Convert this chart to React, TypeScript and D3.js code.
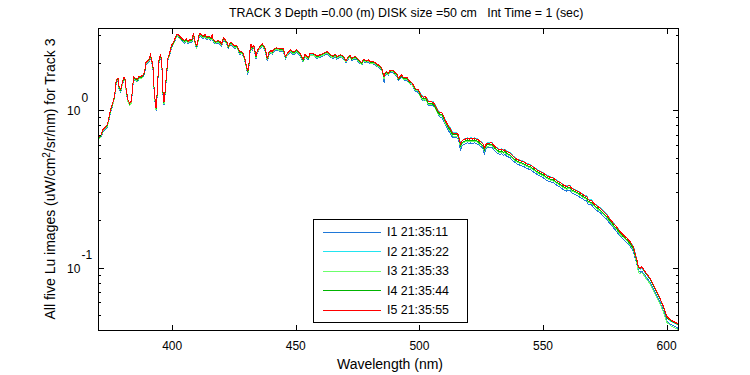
import React from "react";
import * as d3 from "d3";

const wavelength = [
  370.4, 371.2, 372.0, 372.7, 373.8, 374.4, 375.1, 375.8, 376.5, 377.0,
  377.4, 378.1, 378.5, 379.2, 379.8, 380.5, 381.0, 381.4, 382.1, 382.8,
  383.5, 383.9, 384.4, 385.1, 385.9, 386.6, 387.5, 388.2, 388.9, 389.3,
  389.9, 390.6, 391.2, 391.8, 392.2, 392.6, 393.2, 393.5, 393.9, 394.3,
  394.6, 395.2, 395.6, 396.0, 396.4, 396.7, 397.2, 397.8, 398.3, 399.0,
  399.6, 400.3, 401.0, 401.7, 402.4, 403.0, 403.7, 404.4, 405.1, 405.7,
  406.4, 407.1, 408.0, 408.6, 409.1, 409.9, 410.9, 411.3, 412.6, 413.3,
  414.0, 414.9, 415.7, 416.2, 416.6, 417.6, 418.7, 419.4, 420.0, 420.7,
  421.4, 422.1, 422.7, 423.4, 424.1, 424.7, 425.4, 426.1, 426.8, 427.4,
  428.1, 428.8, 429.5, 430.2, 430.6, 431.1, 431.5, 431.9, 432.4, 433.0,
  433.5, 433.9, 434.4, 435.1, 435.8, 436.5, 437.2, 437.8, 438.2, 438.6,
  439.2, 440.0, 440.5, 441.2, 442.3, 443.6, 445.0, 445.4, 445.9, 446.6,
  447.3, 448.0, 448.6, 449.4, 450.4, 451.0, 451.7, 452.4, 453.0, 453.7,
  454.4, 455.1, 455.8, 457.1, 458.5, 459.8, 461.1, 462.5, 463.2, 464.1,
  465.2, 465.9, 466.6, 467.9, 469.2, 470.3, 471.2, 471.9, 472.6, 473.7,
  474.6, 475.7, 476.7, 477.3, 478.4, 479.3, 480.0, 481.1, 482.1, 482.7,
  483.4, 484.1, 484.8, 485.4, 485.7, 486.1, 486.8, 487.4, 488.1, 488.8,
  489.5, 490.1, 490.8, 491.5, 492.2, 492.9, 493.5, 494.2, 494.9, 495.5,
  496.2, 496.9, 497.5, 498.2, 498.9, 499.6, 500.3, 500.9, 501.6, 502.3,
  503.0, 503.6, 505.0, 505.6, 506.3, 507.0, 507.7, 508.3, 509.0, 509.7,
  510.4, 511.1, 511.7, 512.4, 513.1, 513.7, 515.1, 515.8, 516.2, 516.7,
  517.1, 517.8, 518.5, 519.4, 520.1, 520.8, 521.6, 522.2, 523.2, 523.8,
  524.5, 525.2, 525.9, 526.3, 526.8, 527.5, 528.3, 529.3, 529.9, 530.6,
  531.9, 532.6, 533.3, 534.0, 534.6, 535.3, 536.7, 538.0, 539.4, 540.7,
  542.0, 543.4, 544.8, 546.1, 547.5, 548.8, 550.1, 551.5, 552.8, 554.2,
  555.6, 556.9, 558.2, 559.6, 560.2, 560.9, 561.6, 562.9, 564.3, 565.7,
  567.0, 567.7, 568.3, 569.7, 570.4, 571.7, 573.1, 574.4, 575.8, 577.1,
  578.5, 579.8, 581.2, 582.5, 583.9, 585.2, 586.6, 587.2, 587.9, 588.6,
  589.3, 589.9, 590.6, 591.3, 592.0, 593.3, 594.6, 596.0, 597.3, 598.7,
  599.4, 600.1, 601.5, 602.8, 604.1, 605.0,
];

const luI5 = [
  0.677, 0.697, 0.753, 0.772, 0.810, 0.894, 1.01, 1.09, 1.20, 1.35,
  1.57, 1.60, 1.42, 1.35, 1.49, 1.62, 1.57, 1.35, 1.17, 1.11,
  1.14, 1.35, 1.64, 1.60, 1.57, 1.64, 1.64, 1.68, 1.77, 2.00,
  2.05, 2.10, 2.26, 2.05, 1.95, 1.45, 1.11, 1.03, 1.26, 1.68,
  2.05, 2.26, 2.15, 1.77, 1.17, 1.13, 1.35, 1.77, 2.15, 2.31,
  2.55, 2.68, 2.81, 3.02, 3.05, 2.95, 2.88, 2.81, 2.77, 2.85,
  2.74, 2.81, 2.81, 3.10, 2.81, 2.55, 3.02, 3.07, 2.95, 3.02,
  2.91, 2.95, 2.88, 3.02, 2.81, 2.74, 2.77, 2.72, 2.64, 2.88,
  2.81, 2.72, 2.55, 2.68, 2.68, 2.61, 2.55, 2.59, 2.46, 2.35,
  2.37, 2.28, 2.10, 1.86, 1.77, 2.00, 2.43, 2.64, 2.49, 2.59,
  2.37, 2.20, 2.39, 2.49, 2.59, 2.64, 2.55, 2.43, 2.20, 2.15,
  2.35, 2.39, 2.35, 2.46, 2.49, 2.46, 2.46, 2.31, 2.20, 2.31,
  2.37, 2.43, 2.35, 2.35, 2.43, 2.37, 2.31, 2.20, 2.10, 2.26,
  2.20, 2.17, 2.30, 2.30, 2.21, 2.25, 2.30, 2.36, 2.32, 2.25,
  2.21, 2.28, 2.19, 2.25, 2.21, 2.07, 2.19, 2.25, 2.14, 2.19,
  2.17, 2.07, 2.01, 2.11, 2.07, 2.09, 2.04, 2.04, 2.01, 1.97,
  1.94, 1.91, 1.85, 1.70, 1.64, 1.72, 1.76, 1.72, 1.79, 1.80,
  1.79, 1.73, 1.72, 1.60, 1.64, 1.68, 1.62, 1.60, 1.62, 1.56,
  1.52, 1.50, 1.45, 1.38, 1.36, 1.35, 1.28, 1.23, 1.21, 1.22,
  1.19, 1.13, 1.13, 1.12, 1.08, 1.03, 0.980, 0.966, 0.966, 0.920,
  0.868, 0.827, 0.795, 0.769, 0.731, 0.714, 0.714, 0.697, 0.648, 0.611,
  0.632, 0.648, 0.654, 0.664, 0.654, 0.664, 0.654, 0.664, 0.654, 0.648,
  0.632, 0.623, 0.602, 0.574, 0.602, 0.617, 0.617, 0.623, 0.602, 0.587,
  0.565, 0.560, 0.565, 0.554, 0.560, 0.546, 0.533, 0.507, 0.488, 0.478,
  0.471, 0.456, 0.449, 0.434, 0.418, 0.407, 0.398, 0.383, 0.375, 0.370,
  0.356, 0.347, 0.335, 0.327, 0.330, 0.330, 0.319, 0.312, 0.304, 0.294,
  0.285, 0.283, 0.269, 0.267, 0.257, 0.247, 0.238, 0.227, 0.216, 0.203,
  0.191, 0.181, 0.169, 0.161, 0.154, 0.146, 0.135, 0.124, 0.113, 0.101,
  0.0991, 0.101, 0.0977, 0.0943, 0.0912, 0.0857, 0.0777, 0.0704, 0.0639, 0.0565,
  0.0525, 0.0488, 0.0465, 0.0454, 0.0443, 0.0433,
];

const luI4 = [
  0.670, 0.690, 0.745, 0.764, 0.802, 0.885, 1.00, 1.08, 1.19, 1.34,
  1.55, 1.58, 1.41, 1.34, 1.48, 1.60, 1.55, 1.34, 1.16, 1.10,
  1.13, 1.34, 1.62, 1.58, 1.55, 1.62, 1.62, 1.66, 1.75, 1.98,
  2.03, 2.08, 2.24, 2.03, 1.93, 1.44, 1.10, 1.02, 1.25, 1.66,
  2.03, 2.24, 2.13, 1.75, 1.16, 1.12, 1.34, 1.75, 2.13, 2.29,
  2.52, 2.65, 2.78, 2.99, 3.02, 2.92, 2.85, 2.78, 2.74, 2.82,
  2.71, 2.78, 2.78, 3.07, 2.78, 2.52, 2.99, 3.04, 2.92, 2.99,
  2.88, 2.92, 2.85, 2.99, 2.78, 2.71, 2.74, 2.69, 2.61, 2.85,
  2.78, 2.69, 2.52, 2.65, 2.65, 2.58, 2.52, 2.56, 2.44, 2.33,
  2.35, 2.26, 2.08, 1.84, 1.75, 1.98, 2.41, 2.61, 2.47, 2.56,
  2.35, 2.18, 2.37, 2.47, 2.56, 2.61, 2.52, 2.41, 2.18, 2.13,
  2.33, 2.37, 2.33, 2.44, 2.47, 2.44, 2.44, 2.29, 2.18, 2.29,
  2.35, 2.41, 2.33, 2.33, 2.41, 2.35, 2.29, 2.18, 2.08, 2.24,
  2.18, 2.15, 2.28, 2.28, 2.19, 2.23, 2.28, 2.34, 2.30, 2.23,
  2.19, 2.26, 2.17, 2.23, 2.19, 2.05, 2.17, 2.23, 2.12, 2.17,
  2.15, 2.05, 1.99, 2.09, 2.05, 2.07, 2.02, 2.02, 1.99, 1.95,
  1.92, 1.89, 1.83, 1.68, 1.62, 1.70, 1.74, 1.70, 1.77, 1.78,
  1.77, 1.71, 1.70, 1.58, 1.62, 1.66, 1.60, 1.58, 1.60, 1.54,
  1.50, 1.49, 1.44, 1.37, 1.35, 1.34, 1.25, 1.20, 1.18, 1.19,
  1.16, 1.10, 1.10, 1.09, 1.05, 1.00, 0.956, 0.942, 0.942, 0.897,
  0.846, 0.806, 0.775, 0.750, 0.713, 0.696, 0.696, 0.680, 0.632, 0.596,
  0.616, 0.632, 0.638, 0.647, 0.638, 0.647, 0.638, 0.647, 0.638, 0.632,
  0.616, 0.607, 0.587, 0.560, 0.587, 0.602, 0.602, 0.607, 0.587, 0.572,
  0.551, 0.546, 0.551, 0.540, 0.546, 0.532, 0.520, 0.494, 0.476, 0.466,
  0.459, 0.445, 0.438, 0.423, 0.408, 0.397, 0.388, 0.373, 0.366, 0.361,
  0.347, 0.338, 0.327, 0.319, 0.322, 0.322, 0.311, 0.304, 0.296, 0.287,
  0.278, 0.276, 0.262, 0.260, 0.251, 0.241, 0.232, 0.221, 0.211, 0.198,
  0.186, 0.176, 0.165, 0.157, 0.150, 0.142, 0.132, 0.121, 0.110, 0.100,
  0.0981, 0.100, 0.0967, 0.0934, 0.0903, 0.0848, 0.0769, 0.0697, 0.0633, 0.0559,
  0.0520, 0.0483, 0.0460, 0.0449, 0.0439, 0.0429,
];

const luI3 = [
  0.660, 0.680, 0.734, 0.753, 0.790, 0.872, 0.985, 1.06, 1.17, 1.32,
  1.53, 1.56, 1.38, 1.32, 1.45, 1.58, 1.53, 1.32, 1.14, 1.08,
  1.11, 1.32, 1.60, 1.56, 1.53, 1.60, 1.60, 1.64, 1.73, 1.95,
  2.00, 2.05, 2.20, 2.00, 1.90, 1.41, 1.08, 1.00, 1.23, 1.64,
  2.00, 2.20, 2.10, 1.73, 1.14, 1.10, 1.32, 1.73, 2.10, 2.25,
  2.49, 2.61, 2.74, 2.94, 2.97, 2.88, 2.81, 2.74, 2.70, 2.78,
  2.67, 2.74, 2.74, 3.02, 2.74, 2.49, 2.94, 2.99, 2.88, 2.94,
  2.84, 2.88, 2.81, 2.94, 2.74, 2.67, 2.70, 2.65, 2.57, 2.81,
  2.74, 2.65, 2.49, 2.61, 2.61, 2.54, 2.49, 2.53, 2.40, 2.29,
  2.31, 2.22, 2.05, 1.81, 1.73, 1.95, 2.37, 2.57, 2.43, 2.53,
  2.31, 2.15, 2.33, 2.43, 2.53, 2.57, 2.49, 2.37, 2.15, 2.10,
  2.29, 2.33, 2.29, 2.40, 2.43, 2.40, 2.40, 2.25, 2.15, 2.25,
  2.31, 2.37, 2.29, 2.29, 2.37, 2.31, 2.25, 2.15, 2.05, 2.20,
  2.15, 2.12, 2.24, 2.24, 2.15, 2.19, 2.24, 2.30, 2.26, 2.19,
  2.15, 2.22, 2.14, 2.19, 2.15, 2.02, 2.14, 2.19, 2.09, 2.14,
  2.12, 2.02, 1.96, 2.06, 2.02, 2.04, 1.99, 1.99, 1.96, 1.92,
  1.89, 1.86, 1.80, 1.66, 1.58, 1.68, 1.72, 1.68, 1.75, 1.76,
  1.75, 1.69, 1.68, 1.56, 1.60, 1.64, 1.58, 1.56, 1.58, 1.52,
  1.48, 1.46, 1.41, 1.35, 1.33, 1.32, 1.23, 1.18, 1.16, 1.17,
  1.14, 1.08, 1.08, 1.08, 1.04, 0.989, 0.941, 0.927, 0.927, 0.883,
  0.833, 0.794, 0.763, 0.738, 0.702, 0.685, 0.685, 0.669, 0.622, 0.587,
  0.607, 0.622, 0.628, 0.637, 0.628, 0.637, 0.628, 0.637, 0.628, 0.622,
  0.607, 0.598, 0.578, 0.551, 0.578, 0.592, 0.592, 0.598, 0.578, 0.564,
  0.542, 0.538, 0.542, 0.532, 0.538, 0.524, 0.512, 0.487, 0.468, 0.459,
  0.452, 0.438, 0.431, 0.417, 0.401, 0.391, 0.382, 0.368, 0.360, 0.355,
  0.342, 0.333, 0.322, 0.314, 0.317, 0.317, 0.306, 0.300, 0.292, 0.282,
  0.274, 0.272, 0.258, 0.256, 0.247, 0.237, 0.228, 0.218, 0.207, 0.195,
  0.183, 0.174, 0.162, 0.155, 0.148, 0.140, 0.130, 0.119, 0.108, 0.0929,
  0.0912, 0.0929, 0.0899, 0.0868, 0.0839, 0.0788, 0.0715, 0.0648, 0.0588, 0.0520,
  0.0483, 0.0449, 0.0428, 0.0418, 0.0408, 0.0398,
];

const luI2 = [
  0.663, 0.683, 0.738, 0.757, 0.794, 0.876, 0.990, 1.07, 1.18, 1.32,
  1.54, 1.57, 1.39, 1.32, 1.46, 1.59, 1.54, 1.32, 1.15, 1.09,
  1.12, 1.32, 1.61, 1.57, 1.54, 1.61, 1.61, 1.65, 1.73, 1.96,
  2.01, 2.06, 2.21, 2.01, 1.91, 1.42, 1.09, 1.01, 1.23, 1.65,
  2.01, 2.21, 2.11, 1.73, 1.15, 1.11, 1.32, 1.73, 2.11, 2.26,
  2.50, 2.63, 2.75, 2.96, 2.99, 2.89, 2.82, 2.75, 2.71, 2.79,
  2.69, 2.75, 2.75, 3.04, 2.75, 2.50, 2.96, 3.01, 2.89, 2.96,
  2.85, 2.89, 2.82, 2.96, 2.75, 2.69, 2.71, 2.67, 2.59, 2.82,
  2.75, 2.67, 2.50, 2.63, 2.63, 2.56, 2.50, 2.54, 2.41, 2.30,
  2.32, 2.23, 2.06, 1.82, 1.73, 1.96, 2.38, 2.59, 2.44, 2.54,
  2.32, 2.16, 2.34, 2.44, 2.54, 2.59, 2.50, 2.38, 2.16, 2.11,
  2.30, 2.34, 2.30, 2.41, 2.44, 2.41, 2.41, 2.26, 2.16, 2.26,
  2.32, 2.38, 2.30, 2.30, 2.38, 2.32, 2.26, 2.16, 2.06, 2.21,
  2.16, 2.13, 2.25, 2.25, 2.17, 2.21, 2.25, 2.31, 2.27, 2.21,
  2.17, 2.23, 2.15, 2.21, 2.17, 2.03, 2.15, 2.21, 2.10, 2.15,
  2.13, 2.03, 1.97, 2.07, 2.03, 2.05, 2.00, 2.00, 1.97, 1.93,
  1.90, 1.87, 1.81, 1.67, 1.57, 1.69, 1.72, 1.69, 1.75, 1.76,
  1.75, 1.70, 1.69, 1.57, 1.61, 1.65, 1.59, 1.57, 1.59, 1.53,
  1.49, 1.47, 1.42, 1.35, 1.33, 1.32, 1.29, 1.24, 1.22, 1.23,
  1.20, 1.14, 1.14, 1.13, 1.09, 1.04, 0.987, 0.973, 0.973, 0.926,
  0.874, 0.833, 0.801, 0.774, 0.736, 0.719, 0.719, 0.702, 0.653, 0.615,
  0.636, 0.653, 0.659, 0.669, 0.659, 0.669, 0.659, 0.669, 0.659, 0.653,
  0.636, 0.627, 0.606, 0.578, 0.606, 0.621, 0.621, 0.627, 0.606, 0.591,
  0.569, 0.564, 0.569, 0.558, 0.564, 0.550, 0.537, 0.511, 0.491, 0.481,
  0.474, 0.459, 0.452, 0.437, 0.421, 0.410, 0.401, 0.386, 0.378, 0.373,
  0.358, 0.349, 0.337, 0.329, 0.332, 0.332, 0.321, 0.314, 0.306, 0.296,
  0.287, 0.285, 0.271, 0.269, 0.259, 0.249, 0.240, 0.229, 0.218, 0.204,
  0.192, 0.182, 0.170, 0.162, 0.155, 0.147, 0.136, 0.125, 0.114, 0.0995,
  0.0976, 0.0995, 0.0962, 0.0929, 0.0898, 0.0844, 0.0765, 0.0693, 0.0629, 0.0557,
  0.0517, 0.0481, 0.0458, 0.0447, 0.0436, 0.0427,
];

const luI1 = [
  0.653, 0.673, 0.727, 0.745, 0.782, 0.863, 0.975, 1.05, 1.16, 1.30,
  1.52, 1.54, 1.37, 1.30, 1.44, 1.56, 1.52, 1.30, 1.13, 1.07,
  1.10, 1.30, 1.58, 1.54, 1.52, 1.58, 1.58, 1.62, 1.71, 1.93,
  1.98, 2.03, 2.18, 1.98, 1.88, 1.40, 1.06, 0.990, 1.22, 1.62,
  1.98, 2.18, 2.07, 1.71, 1.12, 1.08, 1.30, 1.71, 2.07, 2.23,
  2.46, 2.59, 2.71, 2.91, 2.94, 2.85, 2.78, 2.71, 2.67, 2.75,
  2.64, 2.71, 2.71, 2.99, 2.71, 2.46, 2.91, 2.96, 2.85, 2.91,
  2.81, 2.85, 2.78, 2.91, 2.71, 2.64, 2.67, 2.62, 2.55, 2.78,
  2.71, 2.62, 2.46, 2.59, 2.59, 2.52, 2.46, 2.50, 2.37, 2.27,
  2.29, 2.20, 2.03, 1.79, 1.68, 1.93, 2.34, 2.55, 2.40, 2.50,
  2.29, 2.12, 2.31, 2.40, 2.50, 2.55, 2.46, 2.34, 2.12, 2.07,
  2.27, 2.31, 2.27, 2.37, 2.40, 2.37, 2.37, 2.23, 2.12, 2.23,
  2.29, 2.34, 2.27, 2.27, 2.34, 2.29, 2.23, 2.12, 2.03, 2.18,
  2.12, 2.09, 2.22, 2.22, 2.13, 2.17, 2.22, 2.28, 2.24, 2.17,
  2.13, 2.20, 2.11, 2.17, 2.13, 2.00, 2.11, 2.17, 2.07, 2.11,
  2.09, 2.00, 1.94, 2.04, 2.00, 2.02, 1.97, 1.97, 1.94, 1.90,
  1.87, 1.84, 1.79, 1.64, 1.50, 1.66, 1.70, 1.66, 1.73, 1.74,
  1.73, 1.67, 1.66, 1.54, 1.58, 1.62, 1.56, 1.54, 1.56, 1.51,
  1.47, 1.45, 1.40, 1.33, 1.31, 1.30, 1.22, 1.17, 1.15, 1.16,
  1.13, 1.07, 1.07, 1.06, 1.03, 0.979, 0.931, 0.903, 0.903, 0.860,
  0.812, 0.773, 0.743, 0.719, 0.683, 0.668, 0.668, 0.652, 0.606, 0.550,
  0.591, 0.606, 0.611, 0.621, 0.611, 0.621, 0.611, 0.621, 0.611, 0.606,
  0.591, 0.583, 0.563, 0.520, 0.563, 0.577, 0.577, 0.583, 0.563, 0.549,
  0.528, 0.524, 0.528, 0.518, 0.524, 0.511, 0.498, 0.474, 0.456, 0.447,
  0.440, 0.426, 0.420, 0.406, 0.391, 0.381, 0.372, 0.358, 0.351, 0.346,
  0.333, 0.324, 0.313, 0.306, 0.309, 0.309, 0.298, 0.292, 0.284, 0.275,
  0.266, 0.265, 0.252, 0.250, 0.240, 0.231, 0.223, 0.212, 0.202, 0.190,
  0.179, 0.169, 0.158, 0.151, 0.144, 0.137, 0.126, 0.116, 0.106, 0.0949,
  0.0932, 0.0949, 0.0918, 0.0886, 0.0857, 0.0806, 0.0730, 0.0662, 0.0601, 0.0531,
  0.0494, 0.0459, 0.0437, 0.0427, 0.0416, 0.0407,
];

const seriesLabels = ["I1 21:35:11", "I2 21:35:22", "I3 21:35:33", "I4 21:35:44", "I5 21:35:55"];
const seriesColors = ["#1f78d8", "#22e4f0", "#6cff6c", "#00b400", "#ff0000"];
const xTicks = [400, 450, 500, 550, 600];
const yMajorTicks = [0.1, 1];
const yMajorExp = ["-1", "0"];
const yMinorTicks = [0.04, 0.05, 0.06, 0.07, 0.08, 0.09, 0.2, 0.3, 0.4, 0.5, 0.6, 0.7, 0.8, 0.9, 2, 3];
const xDomain = [370, 605];
const yDomain = [0.0395, 3.33];
const titleText = "TRACK 3 Depth =0.00 (m) DISK size =50 cm   Int Time = 1 (sec)";

export default function App() {
  const left = 98, right = 679, top = 28, bottom = 331;
  const x = d3.scaleLinear().domain(xDomain).range([left, right]);
  const y = d3.scaleLog().domain(yDomain).range([bottom, top]);
  const series = [luI1, luI2, luI3, luI4, luI5];
  const lineGen = d3
    .line<number>()
    .x((_, i) => x(wavelength[i]))
    .y((d) => y(d));
  const font = "'Liberation Sans', Arial, Helvetica, sans-serif";
  const legendX = 313, legendY = 219, legendW = 154, legendH = 103;
  const rowY = (i: number) => 231.5 + i * 19.5;

  return (
    <svg
      width={750}
      height={375}
      style={{ position: "absolute", left: 0, top: 0, background: "#fff" }}
      fontFamily={font}
    >
      <rect x={0} y={0} width={750} height={375} fill="#fff" />
      <defs>
        <clipPath id="plotClip">
          <rect x={left} y={top} width={right - left} height={bottom - top} />
        </clipPath>
      </defs>
      <g clipPath="url(#plotClip)">
        {series.map((vals, si) => (
          <path
            key={si}
            d={lineGen(vals) || ""}
            fill="none"
            stroke={seriesColors[si]}
            strokeWidth={1}
            shapeRendering="crispEdges"
          />
        ))}
      </g>
      {/* axes box */}
      <rect
        x={left + 0.5}
        y={top + 0.5}
        width={right - left - 1}
        height={bottom - top - 1}
        fill="none"
        stroke="#000"
        strokeWidth={1}
        shapeRendering="crispEdges"
      />
      {/* x ticks */}
      {xTicks.map((t) => {
        const px = Math.round(x(t)) + 0.5;
        return (
          <g key={t}>
            <line x1={px} x2={px} y1={bottom} y2={bottom - 6} stroke="#000" shapeRendering="crispEdges" />
            <line x1={px} x2={px} y1={top} y2={top + 6} stroke="#000" shapeRendering="crispEdges" />
            <text x={x(t)} y={350} fontSize={12} textAnchor="middle" fill="#000">
              {t}
            </text>
          </g>
        );
      })}
      {/* y major ticks */}
      {yMajorTicks.map((t, i) => {
        const py = Math.round(y(t)) + 0.5;
        return (
          <g key={t}>
            <line x1={left} x2={left + 6} y1={py} y2={py} stroke="#000" shapeRendering="crispEdges" />
            <line x1={right} x2={right - 6} y1={py} y2={py} stroke="#000" shapeRendering="crispEdges" />
            <text x={67} y={y(t) + 5} fontSize={12} fill="#000">
              10
            </text>
            <text x={81.5} y={y(t) - 8.5} fontSize={12} fill="#000">
              {yMajorExp[i]}
            </text>
          </g>
        );
      })}
      {yMinorTicks.map((t) => {
        const py = Math.round(y(t)) + 0.5;
        return (
          <g key={t}>
            <line x1={left} x2={left + 3} y1={py} y2={py} stroke="#000" shapeRendering="crispEdges" />
            <line x1={right} x2={right - 3} y1={py} y2={py} stroke="#000" shapeRendering="crispEdges" />
          </g>
        );
      })}
      {/* title */}
      <text x={229} y={17} fontSize={12.4} fill="#000" style={{ whiteSpace: "pre" }}>
        {titleText}
      </text>
      {/* x label */}
      <text x={390} y={369} fontSize={14} textAnchor="middle" fill="#000">
        Wavelength (nm)
      </text>
      {/* y label */}
      <text transform="translate(55,179) rotate(-90)" fontSize={14} textAnchor="middle" fill="#000">
        All five Lu images (uW/cm
        <tspan dy={-5} fontSize={10}>2</tspan>
        <tspan dy={5}>/sr/nm) for Track 3</tspan>
      </text>
      {/* legend */}
      <rect
        x={legendX + 0.5}
        y={legendY + 0.5}
        width={legendW}
        height={legendH}
        fill="#fff"
        stroke="#000"
        shapeRendering="crispEdges"
      />
      {seriesLabels.map((lab, i) => (
        <g key={lab}>
          <line
            x1={323}
            x2={381}
            y1={Math.round(rowY(i)) + 0.5}
            y2={Math.round(rowY(i)) + 0.5}
            stroke={seriesColors[i]}
            shapeRendering="crispEdges"
          />
          <text x={387} y={rowY(i) + 4.5} fontSize={12.4} fill="#000">
            {lab}
          </text>
        </g>
      ))}
    </svg>
  );
}
